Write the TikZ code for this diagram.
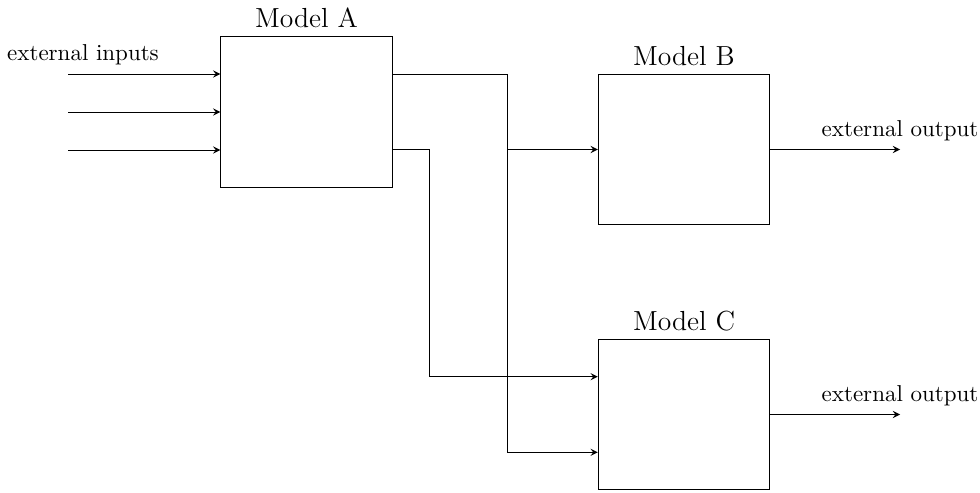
\documentclass[tikz,border=0pt]{standalone}
\usetikzlibrary{calc,arrows}
\begin{document}
\begin{tikzpicture}[x=0.435pt,y=-0.435pt,
  model/.style={draw, inner sep=0pt, minimum width=74.6pt, minimum height=65.4pt},
  title/.style={font=\large, above},
  conn/.style={-stealth},
  extlabel/.style={font=\normalsize}]
  \useasboundingbox (0,0) rectangle (980,493);

  % the three model boxes
  \node[model] (A) at (306.5,112) {};
  \node[model] (B) at (684,149.5) {};
  \node[model] (C) at (684,414.5) {};

  \node[title] (tA) at (A.north) {Model A};
  \node[title] (tB) at (B.north) {Model B};
  \node[title] (tC) at (C.north) {Model C};

  % ports on the box sides
  \coordinate (a1) at ($(A.north east)!0.25!(A.south east)$);
  \coordinate (a2) at ($(A.north east)!0.75!(A.south east)$);
  \coordinate (c1) at ($(C.north west)!0.25!(C.south west)$);
  \coordinate (c2) at ($(C.north west)!0.75!(C.south west)$);

  % external inputs into Model A
  \coordinate (i1) at (68,74);
  \coordinate (i2) at (68,112);
  \coordinate (i3) at (68,150);
  \node[extlabel] (lin) at (83,55) {external inputs};
  \draw[conn] (i1) -- (i1 -| A.west);
  \draw[conn] (i2) -- (i2 -| A.west);
  \draw[conn] (i3) -- (i3 -| A.west);

  % Model A outputs routed to B and C
  \draw[conn] (a1) -| ($(B.west)+(-90,0)$) -- (B.west);
  \draw[conn] (a1) -| ($(c2)+(-90,0)$) -- (c2);
  \draw[conn] (a2) -| ($(c1)+(-168,0)$) -- (c1);

  % external outputs
  \coordinate (ob) at (900,149.5);
  \coordinate (oc) at (900,414.5);
  \draw[conn] (B.east) -- (ob);
  \draw[conn] (C.east) -- (oc);
  \node[extlabel, above] (lob) at (ob) {external output};
  \node[extlabel, above] (loc) at (oc) {external output};
\end{tikzpicture}
\end{document}
